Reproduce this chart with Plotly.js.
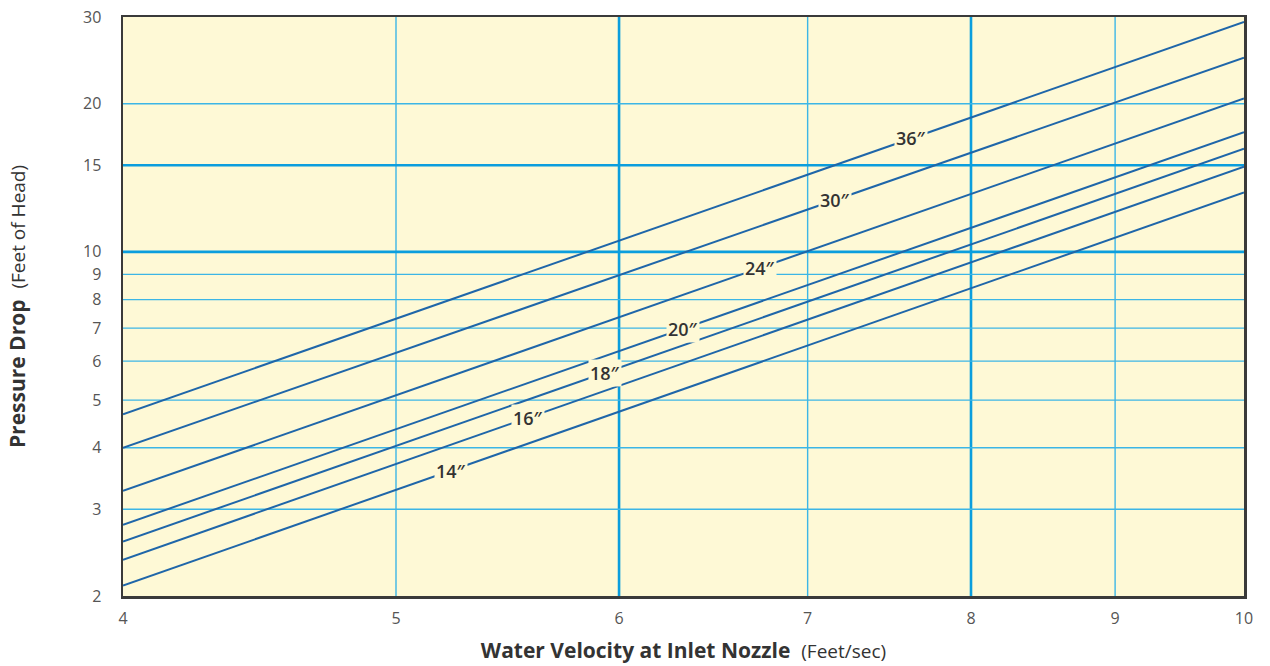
<!DOCTYPE html>
<html>
<head>
<meta charset="utf-8">
<script src="https://cdn.plot.ly/plotly-3.0.1.min.js"></script>
<style>html,body{margin:0;padding:0;background:#fff;}#chart{width:1270px;height:666px;}</style>
</head>
<body>
<div id="chart"></div>
<script>
// Pipe sizes and pressure drop (feet of head) read at velocity 4 and 10 ft/sec
const sizes = ['36″', '30″', '24″', '20″', '18″', '16″', '14″'];
const velocityEnds = [4, 10];
const dropAt4 = [4.68, 4.0, 3.27, 2.79, 2.58, 2.37, 2.10];
const dropAt10 = [29.3, 24.8, 20.5, 17.5, 16.2, 14.9, 13.2];
// velocity where each size label sits on its line
const labelVelocity = [7.62, 7.16, 6.73, 6.32, 5.93, 5.57, 5.23];

const xTicks = [4, 5, 6, 7, 8, 9, 10];
const yTicks = [2, 3, 4, 5, 6, 7, 8, 9, 10, 15, 20, 30];
const xGrid = [5, 6, 7, 8, 9];
const xGridBold = [6, 8];
const yGrid = [3, 4, 5, 6, 7, 8, 9, 10, 15, 20];
const yGridBold = [10, 15];

const lineColor = '#1f66a9';
const gridThin = '#3cb6e6';
const gridBold = '#0b9edd';
const bg = '#fef9d6';

const traces = sizes.map((s, i) => ({
  type: 'scatter', mode: 'lines', name: s,
  x: velocityEnds, y: [dropAt4[i], dropAt10[i]],
  line: {color: lineColor, width: 2}, hoverinfo: 'name+x+y'
}));

const L = Math.log10;
const annotations = sizes.map((s, i) => {
  const t = (L(labelVelocity[i]) - L(velocityEnds[0])) / (L(velocityEnds[1]) - L(velocityEnds[0]));
  const ly = L(dropAt4[i]) + t * (L(dropAt10[i]) - L(dropAt4[i]));
  return {
    x: L(labelVelocity[i]), y: ly, xref: 'x', yref: 'y', text: s, showarrow: false,
    bgcolor: bg, borderpad: 1,
    font: {family: '"Open Sans", sans-serif', size: 18, color: '#333', weight: 600}
  };
});

const shapes = [];
xGrid.forEach(v => shapes.push({type: 'line', xref: 'x', yref: 'paper', x0: v, x1: v, y0: 0, y1: 1, layer: 'below',
  line: {color: xGridBold.includes(v) ? gridBold : gridThin, width: xGridBold.includes(v) ? 2.6 : 1.4}}));
yGrid.forEach(v => shapes.push({type: 'line', xref: 'paper', yref: 'y', x0: 0, x1: 1, y0: v, y1: v, layer: 'below',
  line: {color: yGridBold.includes(v) ? gridBold : gridThin, width: yGridBold.includes(v) ? 2.6 : 1.4}}));

const tickFont = {family: '"Open Sans", sans-serif', size: 16, color: '#555', weight: 400};

const layout = {
  width: 1270, height: 666,
  margin: {l: 123, r: 26, t: 17, b: 70},
  paper_bgcolor: '#ffffff', plot_bgcolor: bg,
  showlegend: false,
  font: {family: '"Open Sans", sans-serif', color: '#444'},
  xaxis: {
    type: 'log', range: [L(4), L(10)],
    tickvals: xTicks, ticktext: xTicks.map(String),
    showgrid: false, zeroline: false,
    showline: true, mirror: true, linecolor: '#3a3a3a', linewidth: 2.5,
    ticks: '', ticklabelstandoff: 6,
    tickfont: tickFont,
    title: {text: '<b>Water Velocity at Inlet Nozzle</b>  <span style="font-size:19px;font-weight:400">(Feet/sec)</span>',
      font: {family: '"Open Sans", sans-serif', size: 21, color: '#333', weight: 600}, standoff: 16}
  },
  yaxis: {
    type: 'log', range: [L(2), L(30)],
    tickvals: yTicks, ticktext: yTicks.map(String),
    showgrid: false, zeroline: false,
    showline: true, mirror: true, linecolor: '#3a3a3a', linewidth: 2.5,
    ticks: '', ticklabelstandoff: 16,
    tickfont: tickFont,
    title: {text: '<b>Pressure Drop</b>  <span style="font-size:19px;font-weight:400">(Feet of Head)</span>',
      font: {family: '"Open Sans", sans-serif', size: 21, color: '#333', weight: 600}, standoff: 52}
  },
  shapes: shapes,
  annotations: annotations
};

Plotly.newPlot('chart', traces, layout, {displayModeBar: false, staticPlot: true});
</script>
</body>
</html>
